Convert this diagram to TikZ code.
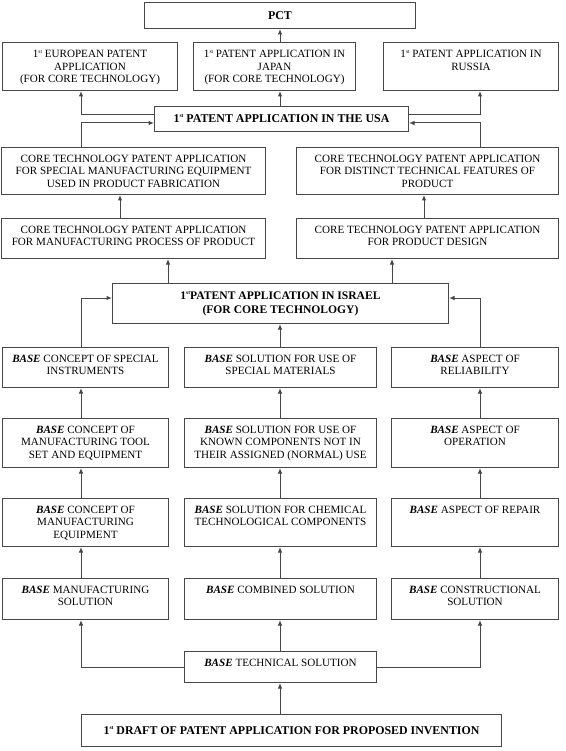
\documentclass[tikz,border=0pt]{standalone}
\usepackage{fontspec}
\setmainfont{Liberation Serif}
\usetikzlibrary{arrows.meta}
\newcommand{\Bs}{\textbf{\textit{BASE}}}
\newcommand{\myst}{\raisebox{0.42em}{\fontsize{5.5}{6}\selectfont st}}
\tikzset{
  box/.style={draw=black!72, line width=1pt, anchor=north west, inner sep=0pt},
  txt/.style={anchor=north, align=center, inner sep=0pt, font=\fontsize{11.1}{12.5}\selectfont},
  headtxt/.style={anchor=center, align=center, inner sep=0pt, font=\fontsize{11.9}{14}\selectfont\bfseries},
  conn/.style={draw=black!72, line width=1pt, -{Latex[length=5.5pt,width=4.5pt]}},
}
% box with top-aligned text
\newcommand{\mkbox}[6]{%
  \node[box, minimum width={#4pt-#2pt}, minimum height={#5pt-#3pt}] (#1) at (#2,#3) {};
  \node[txt] (#1t) at ([yshift=-7.8pt]#1.north) {#6};
}
% box with centred heading text
\newcommand{\mkhead}[6]{%
  \node[box, minimum width={#4pt-#2pt}, minimum height={#5pt-#3pt}] (#1) at (#2,#3) {};
  \node[headtxt] (#1t) at (#1.center) {#6};
}
\begin{document}
\begin{tikzpicture}[x=1pt,y=-1pt]
\useasboundingbox (0,0) rectangle (565,751);
% column coordinates
\coordinate (xl) at (81,0);
\coordinate (xm) at (280,0);
\coordinate (xr) at (480,0);
\coordinate (xa) at (120,0);
\coordinate (xb) at (168,0);
\coordinate (xc) at (392,0);
\coordinate (xd) at (424,0);
\coordinate (yu1) at (0,115);
\coordinate (yu2) at (0,123);
\coordinate (yi) at (0,298);
\coordinate (yt) at (0,667);

\mkhead{PCT}{144}{2}{415}{28}{PCT}
\mkbox{EU}{2}{42}{177}{90}{1\myst{} EUROPEAN PATENT\\APPLICATION\\(FOR CORE TECHNOLOGY)}
\mkbox{JP}{193}{42}{355}{90}{1\myst{} PATENT APPLICATION IN\\JAPAN\\(FOR CORE TECHNOLOGY)}
\mkbox{RU}{383}{42}{558}{90}{1\myst{} PATENT APPLICATION IN\\RUSSIA}
\mkhead{USA}{154}{106}{408}{131}{1\myst{} PATENT APPLICATION IN THE USA}

\mkbox{CT1}{1}{147}{265}{194}{CORE TECHNOLOGY PATENT APPLICATION\\FOR SPECIAL MANUFACTURING EQUIPMENT\\USED IN PRODUCT FABRICATION}
\mkbox{CT2}{296}{147}{558}{194}{CORE TECHNOLOGY PATENT APPLICATION\\FOR DISTINCT TECHNICAL FEATURES OF\\PRODUCT}
\mkbox{CT3}{1}{218}{265}{258}{CORE TECHNOLOGY PATENT APPLICATION\\FOR MANUFACTURING PROCESS OF PRODUCT}
\mkbox{CT4}{296}{218}{558}{258}{CORE TECHNOLOGY PATENT APPLICATION\\FOR PRODUCT DESIGN}

\node[box, minimum width=336pt, minimum height=40pt] (ISR) at (112,283) {};
\node[anchor=center, align=center, inner sep=0pt, font=\fontsize{11.6}{13.5}\selectfont\bfseries] (ISRt) at (ISR.center) {1\myst{}PATENT APPLICATION IN ISRAEL\\(FOR CORE TECHNOLOGY)};

\mkbox{A1}{2}{347}{168}{387}{\Bs{} CONCEPT OF SPECIAL\\INSTRUMENTS}
\mkbox{A2}{184}{347}{376}{387}{\Bs{} SOLUTION FOR USE OF\\SPECIAL MATERIALS}
\mkbox{A3}{391}{347}{558}{387}{\Bs{} ASPECT OF\\RELIABILITY}

\mkbox{B1}{2}{418}{168}{467}{\Bs{} CONCEPT OF\\MANUFACTURING TOOL\\SET AND EQUIPMENT}
\mkbox{B2}{184}{418}{376}{467}{\Bs{} SOLUTION FOR USE OF\\KNOWN COMPONENTS NOT IN\\THEIR ASSIGNED (NORMAL) USE}
\mkbox{B3}{391}{418}{558}{467}{\Bs{} ASPECT OF\\OPERATION}

\mkbox{C1}{2}{498}{168}{546}{\Bs{} CONCEPT OF\\MANUFACTURING\\EQUIPMENT}
\mkbox{C2}{184}{498}{376}{546}{\Bs{} SOLUTION FOR CHEMICAL\\TECHNOLOGICAL COMPONENTS}
\mkbox{C3}{391}{498}{558}{546}{\Bs{} ASPECT OF REPAIR}

\mkbox{D1}{2}{578}{168}{619}{\Bs{} MANUFACTURING\\SOLUTION}
\mkbox{D2}{184}{578}{376}{619}{\Bs{} COMBINED SOLUTION}
\mkbox{D3}{391}{578}{558}{619}{\Bs{} CONSTRUCTIONAL\\SOLUTION}

\mkbox{TS}{184}{651}{376}{682}{\Bs{} TECHNICAL SOLUTION}
\mkhead{DR}{81}{714}{501}{746}{1\myst{} DRAFT OF PATENT APPLICATION FOR PROPOSED INVENTION}

% connectors: top part
\draw[conn] (xm |- JP.north) -- (xm |- PCT.south);
\draw[conn] (xm |- USA.north) -- (xm |- JP.south);
\draw[conn] (USA.west |- yu1) -| (xl |- EU.south);
\draw[conn] (USA.east |- yu1) -| (xr |- RU.south);
\draw[conn] (xl |- CT1.north) |- (USA.west |- yu2);
\draw[conn] (xr |- CT2.north) |- (USA.east |- yu2);
\draw[conn] (xa |- CT3.north) -- (xa |- CT1.south);
\draw[conn] (xd |- CT4.north) -- (xd |- CT2.south);
\draw[conn] (xb |- ISR.north) -- (xb |- CT3.south);
\draw[conn] (xc |- ISR.north) -- (xc |- CT4.south);
% into Israel
\draw[conn] (xl |- A1.north) |- (ISR.west |- yi);
\draw[conn] (xr |- A3.north) |- (ISR.east |- yi);
\draw[conn] (xm |- A2.north) -- (xm |- ISR.south);
% columns
\draw[conn] (xl |- B1.north) -- (xl |- A1.south);
\draw[conn] (xm |- B2.north) -- (xm |- A2.south);
\draw[conn] (xr |- B3.north) -- (xr |- A3.south);
\draw[conn] (xl |- C1.north) -- (xl |- B1.south);
\draw[conn] (xm |- C2.north) -- (xm |- B2.south);
\draw[conn] (xr |- C3.north) -- (xr |- B3.south);
\draw[conn] (xl |- D1.north) -- (xl |- C1.south);
\draw[conn] (xm |- D2.north) -- (xm |- C2.south);
\draw[conn] (xr |- D3.north) -- (xr |- C3.south);
% from technical solution
\draw[conn] (TS.west |- yt) -| (xl |- D1.south);
\draw[conn] (TS.east |- yt) -| (xr |- D3.south);
\draw[conn] (xm |- TS.north) -- (xm |- D2.south);
\draw[conn] (xm |- DR.north) -- (xm |- TS.south);
\end{tikzpicture}
\end{document}
